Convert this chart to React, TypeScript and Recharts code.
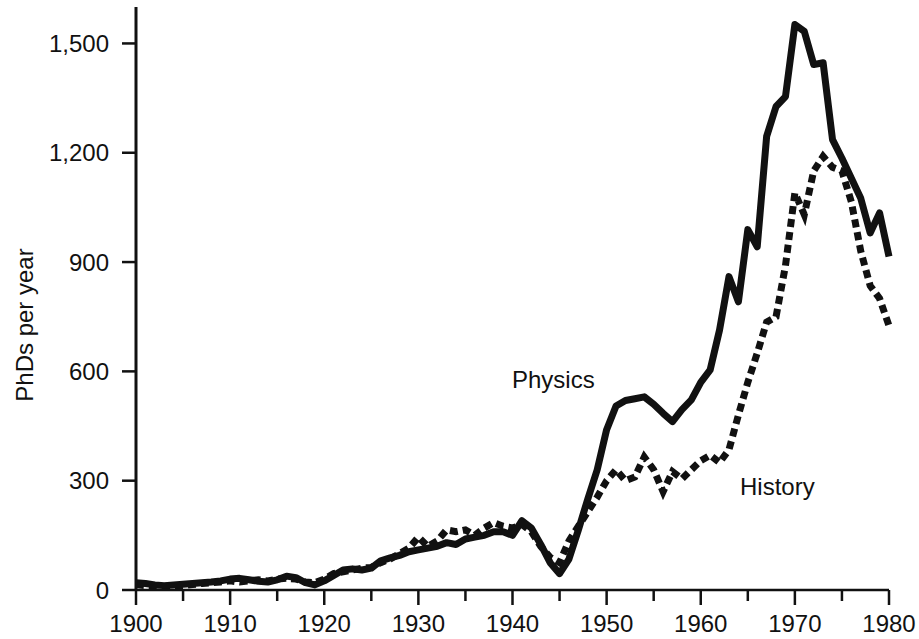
import React from 'react';
import { LineChart, Line, XAxis, YAxis, Customized } from 'recharts';

const years = [
  1900, 1901, 1902, 1903, 1904, 1905, 1906, 1907, 1908, 1909,
  1910, 1911, 1912, 1913, 1914, 1915, 1916, 1917, 1918, 1919,
  1920, 1921, 1922, 1923, 1924, 1925, 1926, 1927, 1928, 1929,
  1930, 1931, 1932, 1933, 1934, 1935, 1936, 1937, 1938, 1939,
  1940, 1941, 1942, 1943, 1944, 1945, 1946, 1947, 1948, 1949,
  1950, 1951, 1952, 1953, 1954, 1955, 1956, 1957, 1958, 1959,
  1960, 1961, 1962, 1963, 1964, 1965, 1966, 1967, 1968, 1969,
  1970, 1971, 1972, 1973, 1974, 1975, 1976, 1977, 1978, 1979,
  1980,
];

const physics = [
  20, 18, 14, 12, 14, 16, 18, 20, 22, 25,
  30, 32, 28, 24, 22, 28, 38, 34, 20, 14,
  25, 40, 55, 58, 55, 60, 80, 88, 95, 105,
  110, 115, 120, 130, 125, 140, 145, 150, 160, 160,
  150, 190, 170, 125, 75, 45, 85, 165, 250, 330,
  440, 505, 520, 525, 530, 510, 485, 462, 495, 522,
  570, 604, 714, 860, 791, 989, 942, 1245, 1327, 1354,
  1552, 1533, 1442, 1447, 1236, 1185, 1130, 1075, 980, 1035,
  915,
];

const history = [
  15, 12, 10, 8, 10, 12, 15, 18, 20, 22,
  25, 22, 25, 28, 25, 30, 32, 30, 22, 20,
  30, 45, 50, 55, 60, 62, 75, 85, 100, 115,
  145, 120, 135, 165, 160, 165, 150, 170, 185, 175,
  170, 180, 160, 120, 90, 75, 135, 175, 215, 255,
  300, 330, 300, 310, 365, 330, 270, 325, 305, 330,
  355, 370, 350, 385, 480, 570, 650, 735, 750, 890,
  1090, 1030, 1150, 1190, 1160, 1150, 1065, 930, 835, 800,
  725,
];

const xTicks = [1900, 1905, 1910, 1915, 1920, 1925, 1930, 1935, 1940, 1945, 1950, 1955, 1960, 1965, 1970, 1975, 1980];
const yTicks = [0, 300, 600, 900, 1200, 1500];

const data = years.map((year, i) => ({ year, physics: physics[i], history: history[i] }));

const FONT = '"Liberation Sans", Arial, Helvetica, sans-serif';
const INK = '#111';

function XTick(props: any) {
  const { x, y, payload } = props;
  const major = payload.value % 10 === 0;
  return (
    <g>
      <line x1={x} y1={y} x2={x} y2={y + (major ? 15 : 11)} stroke={INK} strokeWidth={2.5} />
      {major && (
        <text x={x} y={y + 42} textAnchor="middle" fill={INK} fontSize={24} fontFamily={FONT}>
          {payload.value}
        </text>
      )}
    </g>
  );
}

function Notes() {
  return (
    <g fontFamily={FONT} fill={INK} fontSize={24}>
      <text x={33} y={325} textAnchor="middle" transform="rotate(-90, 33, 325)">PhDs per year</text>
      <text x={512} y={388}>Physics</text>
      <text x={740} y={495}>History</text>
    </g>
  );
}

export default function App() {
  return (
    <div style={{ position: 'absolute', left: 0, top: 0, background: '#fff' }}>
      <LineChart width={919} height={639} data={data} margin={{ top: 7, right: 30, bottom: 0, left: 0 }}>
        <XAxis
          dataKey="year"
          type="number"
          domain={[1900, 1980]}
          ticks={xTicks}
          interval={0}
          height={49}
          tickSize={0}
          tickMargin={0}
          tickLine={false}
          tick={<XTick />}
          axisLine={{ stroke: INK, strokeWidth: 2.5 }}
        />
        <YAxis
          type="number"
          domain={[0, 1600]}
          ticks={yTicks}
          interval={0}
          width={136}
          tickSize={14}
          tickMargin={13}
          tickLine={{ stroke: INK, strokeWidth: 2.5 }}
          axisLine={{ stroke: INK, strokeWidth: 3 }}
          tick={{ fill: INK, fontSize: 24, fontFamily: FONT }}
          tickFormatter={(v: number) => v.toLocaleString('en-US')}
        />
        <Line
          type="linear"
          dataKey="history"
          stroke={INK}
          strokeWidth={7}
          strokeDasharray="8 5"
          dot={false}
          isAnimationActive={false}
        />
        <Line
          type="linear"
          dataKey="physics"
          stroke={INK}
          strokeWidth={7}
          strokeLinejoin="round"
          dot={false}
          isAnimationActive={false}
        />
        <Customized component={Notes} />
      </LineChart>
    </div>
  );
}
